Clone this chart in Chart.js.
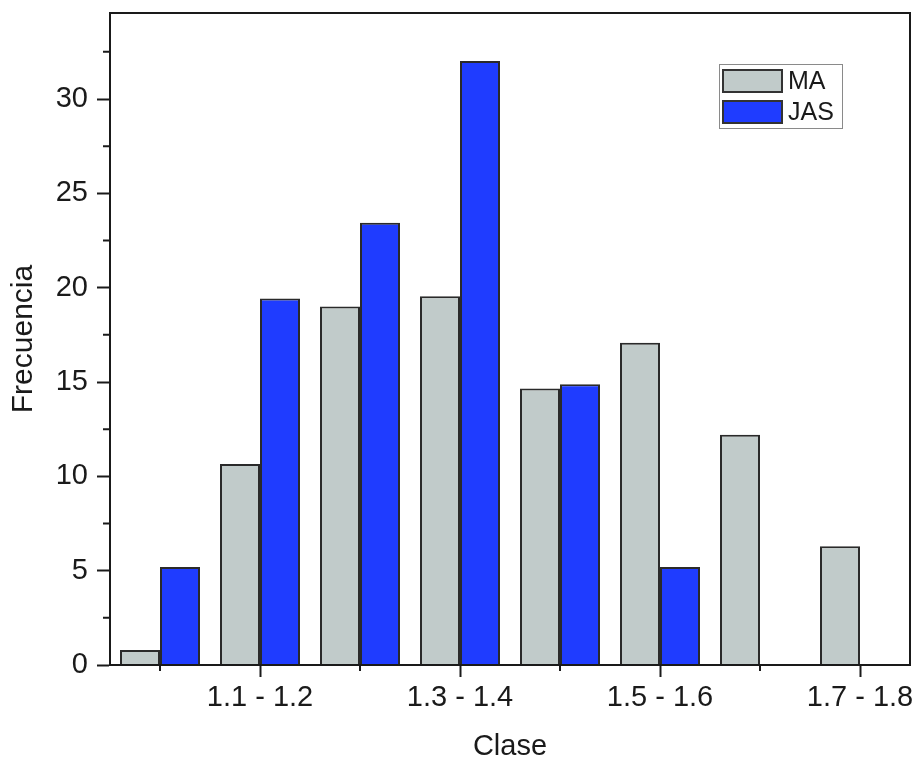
<!DOCTYPE html>
<html>
<head>
<meta charset="utf-8">
<script src="https://cdn.jsdelivr.net/npm/chart.js@4"></script>
<style>
  body { margin: 0; background: #fff; }
</style>
</head>
<body>
<canvas id="hist-chart" width="919" height="761"></canvas>
<script>
const classes = ['1.0 - 1.1', '1.1 - 1.2', '1.2 - 1.3', '1.3 - 1.4', '1.4 - 1.5', '1.5 - 1.6', '1.6 - 1.7', '1.7 - 1.8'];
const maValues = [0.8, 10.65, 19.0, 19.55, 14.65, 17.08, 12.2, 6.3];
const jasValues = [5.2, 19.43, 23.44, 32.02, 14.88, 5.2, 0, 0];
const seriesNames = ['MA', 'JAS'];

const axisColor = '#1a1a1a';
const textColor = '#1a1a1a';
const fontFamily = '"Liberation Sans", Arial, sans-serif';

// frame, minor ticks and the boxed legend
const framePlugin = {
  id: 'frame',
  afterDraw(chart) {
    const { ctx, chartArea: a, scales } = chart;
    ctx.save();
    ctx.strokeStyle = axisColor;
    ctx.lineWidth = 2;
    ctx.strokeRect(a.left, a.top, a.right - a.left, a.bottom - a.top);

    // minor y ticks
    ctx.beginPath();
    for (let v = 2.5; v < scales.y.max; v += 5) {
      const y = scales.y.getPixelForValue(v);
      ctx.moveTo(a.left - 7, y);
      ctx.lineTo(a.left, y);
    }
    // minor x ticks (unlabelled classes)
    classes.forEach((_, i) => {
      if (i % 2 === 0) {
        const x = scales.x.getPixelForValue(i);
        ctx.moveTo(x, a.bottom);
        ctx.lineTo(x, a.bottom + 6);
      }
    });
    ctx.stroke();

    // legend
    ctx.lineWidth = 1;
    ctx.strokeStyle = '#8a8a8a';
    ctx.strokeRect(719.5, 64.5, 123, 64);
    ctx.font = '25px ' + fontFamily;
    ctx.textBaseline = 'middle';
    chart.data.datasets.forEach((ds, i) => {
      const y = 70 + i * 31;
      ctx.fillStyle = ds.backgroundColor;
      ctx.fillRect(723, y, 59, 22);
      ctx.strokeStyle = '#333';
      ctx.lineWidth = 2;
      ctx.strokeRect(723, y, 59, 22);
      ctx.fillStyle = textColor;
      ctx.fillText(ds.label, 788, y + 12);
    });
    ctx.restore();
  }
};

new Chart(document.getElementById('hist-chart'), {
  type: 'bar',
  data: {
    labels: classes,
    datasets: [
      {
        label: seriesNames[0],
        data: maValues,
        backgroundColor: '#c1cbca',
        borderColor: '#2a2a2a',
        borderWidth: 2,
      },
      {
        label: seriesNames[1],
        data: jasValues,
        backgroundColor: '#1f3cff',
        borderColor: '#2a2a2a',
        borderWidth: 2,
      }
    ]
  },
  options: {
    responsive: false,
    animation: false,
    layout: { padding: { left: 0, right: 9, top: 13, bottom: 0 } },
    datasets: { bar: { categoryPercentage: 0.8, barPercentage: 1 } },
    plugins: {
      legend: { display: false },
      tooltip: { enabled: false }
    },
    scales: {
      x: {
        offset: true,
        grid: {
          offset: false,
          drawOnChartArea: false,
          tickLength: 12,
          tickWidth: 2,
          tickColor: (c) => (c.index % 2 === 1 ? axisColor : 'rgba(0,0,0,0)'),
        },
        border: { color: axisColor, width: 2 },
        ticks: {
          autoSkip: false,
          maxRotation: 0,
          padding: 4,
          color: textColor,
          font: { size: 29, family: fontFamily },
          callback: (v, i) => (i % 2 === 1 ? classes[i] : ''),
        },
        title: {
          display: true,
          text: 'Clase',
          color: textColor,
          font: { size: 29, family: fontFamily, lineHeight: 1 },
          padding: { top: 0, bottom: 0 },
        },
        afterFit: (scale) => {
          scale.height = 96;
          scale.paddingLeft = 0;
          scale.paddingRight = 0;
        },
      },
      y: {
        min: 0,
        max: 34.56,
        grid: {
          drawOnChartArea: false,
          tickLength: 13,
          tickWidth: 2,
          tickColor: axisColor,
        },
        border: { color: axisColor, width: 2 },
        ticks: {
          stepSize: 5,
          includeBounds: false,
          padding: 9,
          color: textColor,
          font: { size: 29, family: fontFamily },
        },
        title: {
          display: true,
          text: 'Frecuencia',
          color: textColor,
          font: { size: 30, family: fontFamily },
          padding: { top: 6, bottom: 0 },
        },
        afterFit: (scale) => {
          scale.width = 110;
          scale.paddingTop = 0;
          scale.paddingBottom = 0;
        },
      }
    }
  },
  plugins: [framePlugin]
});
</script>
</body>
</html>
